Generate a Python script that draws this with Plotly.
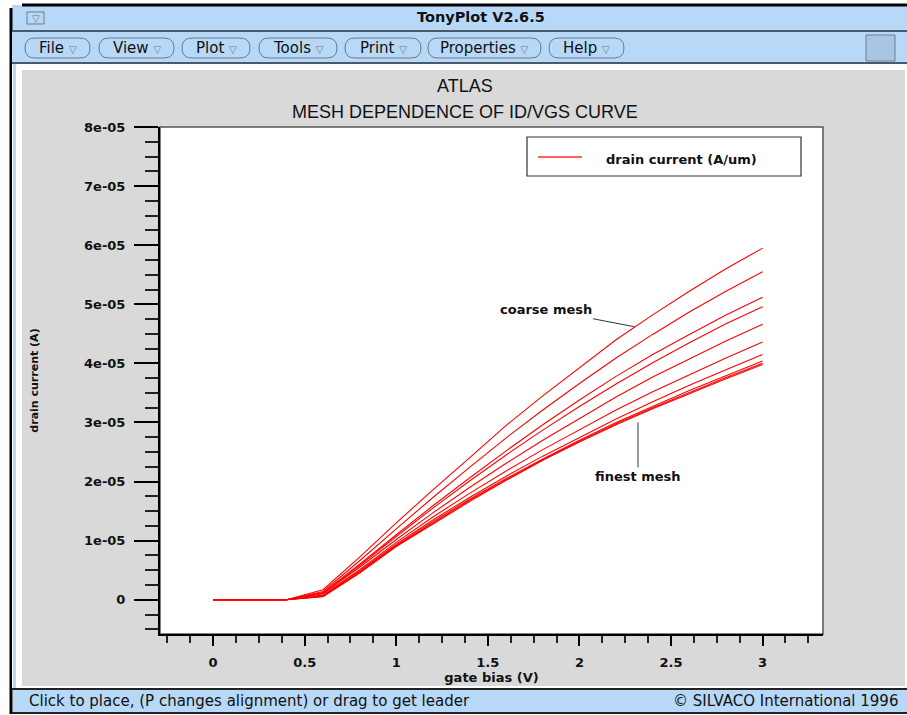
import plotly.graph_objects as go

# ---------------- data ----------------
gate_bias = [0.0, 0.2, 0.4, 0.6, 0.8, 1.0, 1.2, 1.4, 1.6, 1.8, 2.0, 2.2, 2.4, 2.6, 2.8, 3.0]

# drain current in units of 1e-5 A, coarse mesh -> finest mesh
mesh_1 = [0, 0, 0, 0.17, 0.72, 1.30, 1.86, 2.40, 2.95, 3.45, 3.93, 4.40, 4.82, 5.22, 5.60, 5.95]
mesh_2 = [0, 0, 0, 0.14, 0.66, 1.20, 1.73, 2.24, 2.74, 3.21, 3.66, 4.09, 4.49, 4.87, 5.22, 5.55]
mesh_3 = [0, 0, 0, 0.12, 0.60, 1.10, 1.59, 2.06, 2.52, 2.96, 3.38, 3.78, 4.15, 4.49, 4.82, 5.12]
mesh_4 = [0, 0, 0, 0.11, 0.58, 1.07, 1.55, 2.01, 2.45, 2.87, 3.27, 3.65, 4.01, 4.35, 4.67, 4.96]
mesh_5 = [0, 0, 0, 0.10, 0.55, 1.02, 1.47, 1.90, 2.31, 2.70, 3.07, 3.43, 3.77, 4.08, 4.38, 4.66]
mesh_6 = [0, 0, 0, 0.08, 0.51, 0.97, 1.40, 1.80, 2.18, 2.54, 2.88, 3.21, 3.52, 3.81, 4.09, 4.36]
mesh_7 = [0, 0, 0, 0.07, 0.49, 0.94, 1.35, 1.73, 2.09, 2.43, 2.75, 3.06, 3.35, 3.63, 3.89, 4.15]
mesh_8 = [0, 0, 0, 0.06, 0.47, 0.92, 1.32, 1.70, 2.05, 2.38, 2.70, 3.00, 3.27, 3.54, 3.79, 4.04]
mesh_9 = [0, 0, 0, 0.06, 0.46, 0.91, 1.30, 1.68, 2.03, 2.37, 2.68, 2.98, 3.25, 3.51, 3.76, 4.00]
mesh_10 = [0, 0, 0, 0.05, 0.45, 0.90, 1.28, 1.66, 2.02, 2.36, 2.67, 2.96, 3.23, 3.49, 3.74, 3.98]
curves = [mesh_1, mesh_2, mesh_3, mesh_4, mesh_5, mesh_6, mesh_7, mesh_8, mesh_9, mesh_10]

x_tick_vals = [0, 0.5, 1, 1.5, 2, 2.5, 3]
x_tick_text = ["0", "0.5", "1", "1.5", "2", "2.5", "3"]
y_tick_vals = [0, 1e-5, 2e-5, 3e-5, 4e-5, 5e-5, 6e-5, 7e-5, 8e-5]
y_tick_text = ["0", "1e-05", "2e-05", "3e-05", "4e-05", "5e-05", "6e-05", "7e-05", "8e-05"]

menu_items = ["File", "View", "Plot", "Tools", "Print", "Properties", "Help"]

# ---------------- geometry helpers ----------------
W, H = 907, 715
L, R, T, B = 160, 823, 127, 634


def px(x):
    return (x - L) / (R - L)


def py(y):
    return (B - y) / (B - T)


BLUE = "#b8d8f8"
GRAY = "#d9d9d9"
SANS = "Liberation Sans, Arial, Helvetica, sans-serif"
BOLD = "DejaVu Sans, Verdana, sans-serif"
UI = "DejaVu Sans, sans-serif"

fig = go.Figure()
for c in curves:
    fig.add_trace(go.Scatter(
        x=gate_bias, y=[v * 1e-5 for v in c], mode="lines",
        line=dict(color="#ff0000", width=1.1), showlegend=False,
        hoverinfo="skip"))

shapes = []


def rect(x0, y0, x1, y1, fill, line_color=None, lw=0):
    shapes.append(dict(type="rect", xref="paper", yref="paper",
                       x0=px(x0), x1=px(x1), y0=py(y1), y1=py(y0),
                       fillcolor=fill, layer="below",
                       line=dict(color=line_color or fill, width=lw)))


def hline(x0, x1, y, color, lw=1, layer="below"):
    shapes.append(dict(type="line", xref="paper", yref="paper",
                       x0=px(x0), x1=px(x1), y0=py(y), y1=py(y),
                       layer=layer, line=dict(color=color, width=lw)))


def vline(x, y0, y1, color, lw=1):
    shapes.append(dict(type="line", xref="paper", yref="paper",
                       x0=px(x), x1=px(x), y0=py(y0), y1=py(y1),
                       layer="below", line=dict(color=color, width=lw)))


def pill(x0, y0, x1, y1, color="#6a7a8a"):
    r = (y1 - y0) / 2.0
    ym = (y0 + y1) / 2.0
    pts = lambda x, y: f"{px(x):.5f},{py(y):.5f}"
    path = (f"M {pts(x0 + r, y0)} L {pts(x1 - r, y0)} Q {pts(x1, y0)} {pts(x1, ym)} "
            f"Q {pts(x1, y1)} {pts(x1 - r, y1)} L {pts(x0 + r, y1)} "
            f"Q {pts(x0, y1)} {pts(x0, ym)} Q {pts(x0, y0)} {pts(x0 + r, y0)} Z")
    shapes.append(dict(type="path", xref="paper", yref="paper", path=path,
                       layer="below", fillcolor=BLUE,
                       line=dict(color=color, width=1)))


# window chrome
rect(12, 5, 907, 30, BLUE)            # title bar
hline(22, 907, 5, "#000000", 3)
vline(11, 8, 714, "#000000", 3)
hline(12, 907, 31, "#4a5a6a", 2)
rect(12, 32, 907, 62, BLUE)            # menu bar
hline(12, 907, 63, "#4a5a6a", 2)
rect(12, 64, 907, 689, "#ffffff")
rect(13, 64, 16, 689, BLUE)
rect(22, 70, 905, 686, GRAY)           # main gray panel
hline(12, 907, 689, "#222222", 2)
rect(13, 690, 907, 712, BLUE)          # status bar
hline(12, 907, 713, "#222222", 2)
rect(27, 12, 44, 24, BLUE, "#6a7a8a", 1)  # title-bar button
rect(866, 35, 895, 61, "#a8c6e4", "#6a7a8a", 1)

menu_x = [(25, 90), (99, 174), (182, 250), (259, 337), (345, 421), (428, 541), (549, 624)]
for (a, b) in menu_x:
    pill(a, 38, b, 58)

# plot box
rect(L, T, R, B, "#ffffff", "#555555", 1.5)

# legend box
rect(527, 137, 801, 176, "#ffffff", "#333333", 1.2)
hline(538, 582, 157, "#ff3030", 1.5, layer="above")

annotations = []


def text(x, y, s, size, family=SANS, bold=False, anchor="center", color="#111111"):
    annotations.append(dict(x=px(x), y=py(y), xref="paper", yref="paper", text=s,
                            showarrow=False, xanchor=anchor, yanchor="middle",
                            font=dict(size=size, family=family, color=color,
                                      weight="bold" if bold else "normal")))


text(481, 17, "TonyPlot V2.6.5", 14.5, UI, bold=True)
text(35.5, 18, "<span style='color:#777'>▽</span>", 10, UI)
for (a, b), name in zip(menu_x, menu_items):
    text((a + b) / 2, 48, f"{name} <span style='font-size:10px;color:#777'>▽</span>", 15, UI)
text(27, 701, "Click to place, (P changes alignment) or drag to get leader", 15, UI, anchor="left")
text(900, 701, "© SILVACO International 1996", 15, UI, anchor="right")

text(465, 86, "ATLAS", 18, SANS)
text(465, 112, "MESH DEPENDENCE OF ID/VGS CURVE", 18, SANS)
text(604, 159, "drain current (A/um)", 13, BOLD, bold=True, anchor="left")

# leader annotations
annotations.append(dict(x=2.3, y=4.62e-5, xref="x", yref="y", text="<b>coarse mesh</b>",
                        showarrow=True, arrowhead=0, arrowwidth=1, arrowcolor="#333333",
                        ax=-88, ay=-17, font=dict(size=13, family=BOLD, color="#111111")))
annotations.append(dict(x=2.32, y=3.0e-5, xref="x", yref="y", text="<b>finest mesh</b>",
                        showarrow=True, arrowhead=0, arrowwidth=1, arrowcolor="#333333",
                        ax=0, ay=54, font=dict(size=13, family=BOLD, color="#111111")))

tickfont = dict(size=13, family=BOLD, color="#111111", weight="bold")

fig.update_layout(
    width=W, height=H,
    margin=dict(l=L, r=W - R, t=T, b=H - B, pad=0),
    paper_bgcolor="#ffffff", plot_bgcolor="rgba(0,0,0,0)",
    showlegend=False,
    shapes=shapes, annotations=annotations,
    xaxis=dict(
        range=[-0.29, 3.33], tickmode="array", tickvals=x_tick_vals, ticktext=x_tick_text,
        ticks="outside", ticklen=10, tickwidth=2, tickcolor="#000000",
        showline=True, linecolor="#000000", linewidth=2, mirror=False,
        showgrid=False, zeroline=False, tickfont=tickfont, ticklabelstandoff=5,
        minor=dict(tickmode="linear", tick0=0, dtick=0.125, ticks="outside",
                   ticklen=7, tickwidth=1.5, tickcolor="#222222", showgrid=False),
        title=dict(text="gate bias (V)", standoff=0,
                   font=dict(size=13, family=BOLD, color="#111111", weight="bold")),
    ),
    yaxis=dict(
        range=[-0.58e-5, 8e-5], tickmode="array", tickvals=y_tick_vals, ticktext=y_tick_text,
        ticks="outside", ticklen=24, tickwidth=2, tickcolor="#000000",
        showline=True, linecolor="#000000", linewidth=2, mirror=False,
        showgrid=False, zeroline=False, tickfont=tickfont, ticklabelstandoff=6,
        minor=dict(tickmode="linear", tick0=0, dtick=0.25e-5, ticks="outside",
                   ticklen=13, tickwidth=1.5, tickcolor="#222222", showgrid=False),
        title=dict(text="drain current (A)", standoff=43,
                   font=dict(size=11, family=BOLD, color="#111111", weight="bold")),
    ),
)

fig.write_html("out.html")
